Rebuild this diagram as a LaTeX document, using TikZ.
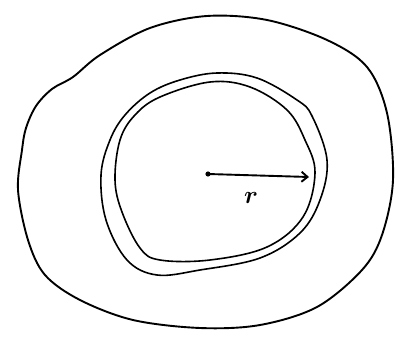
\documentclass[tikz,border=0pt]{standalone}
\usetikzlibrary{arrows.meta}
\begin{document}
\begin{tikzpicture}[x=1pt,y=-1pt,
  loop/.style={line width=1.9pt,line join=round},
  innerloop/.style={line width=1.6pt,line join=round},
  radius arrow/.style={line width=1.9pt,-{Straight Barb[length=6pt,width=10pt]}}]
\useasboundingbox (0,0) rectangle (401,339);
% outer blob
\draw[loop] plot[smooth cycle,tension=0.55] coordinates {
  (207,16) (267,20) (327,40) (367,67) (387,113) (393,180) (382,235) (362,270)
  (317,307) (260,325) (200,328) (133,320) (80,300) (45,275) (28,240)
  (18,190) (22,150) (26,128) (36,106) (52,89) (73,77) (100,55) (150,28)};
% inner outer loop
\draw[innerloop] plot[smooth cycle,tension=0.6] coordinates {
  (217,73) (257,78) (297,100) (312,116) (327,160) (320,200) (300,233) (260,258)
  (200,270) (157,275) (127,260) (106,220) (101,175) (110,140) (125,115) (150,93) (180,80)};
% inner inner loop
\draw[innerloop] plot[smooth cycle,tension=0.6] coordinates {
  (210,82) (250,87) (287,110) (305,140) (315,173) (303,217) (267,247) (210,260)
  (160,260) (140,248) (122,212) (115,180) (120,140) (135,115) (160,97)};
\coordinate (c) at (208,174);
\coordinate (e) at (309,177);
\fill (c) circle (2.6pt);
\draw[radius arrow] (c) -- (e);
\node[font=\fontsize{26}{28}\selectfont\boldmath] (r) at (251,198) {$r$};
\end{tikzpicture}
\end{document}
